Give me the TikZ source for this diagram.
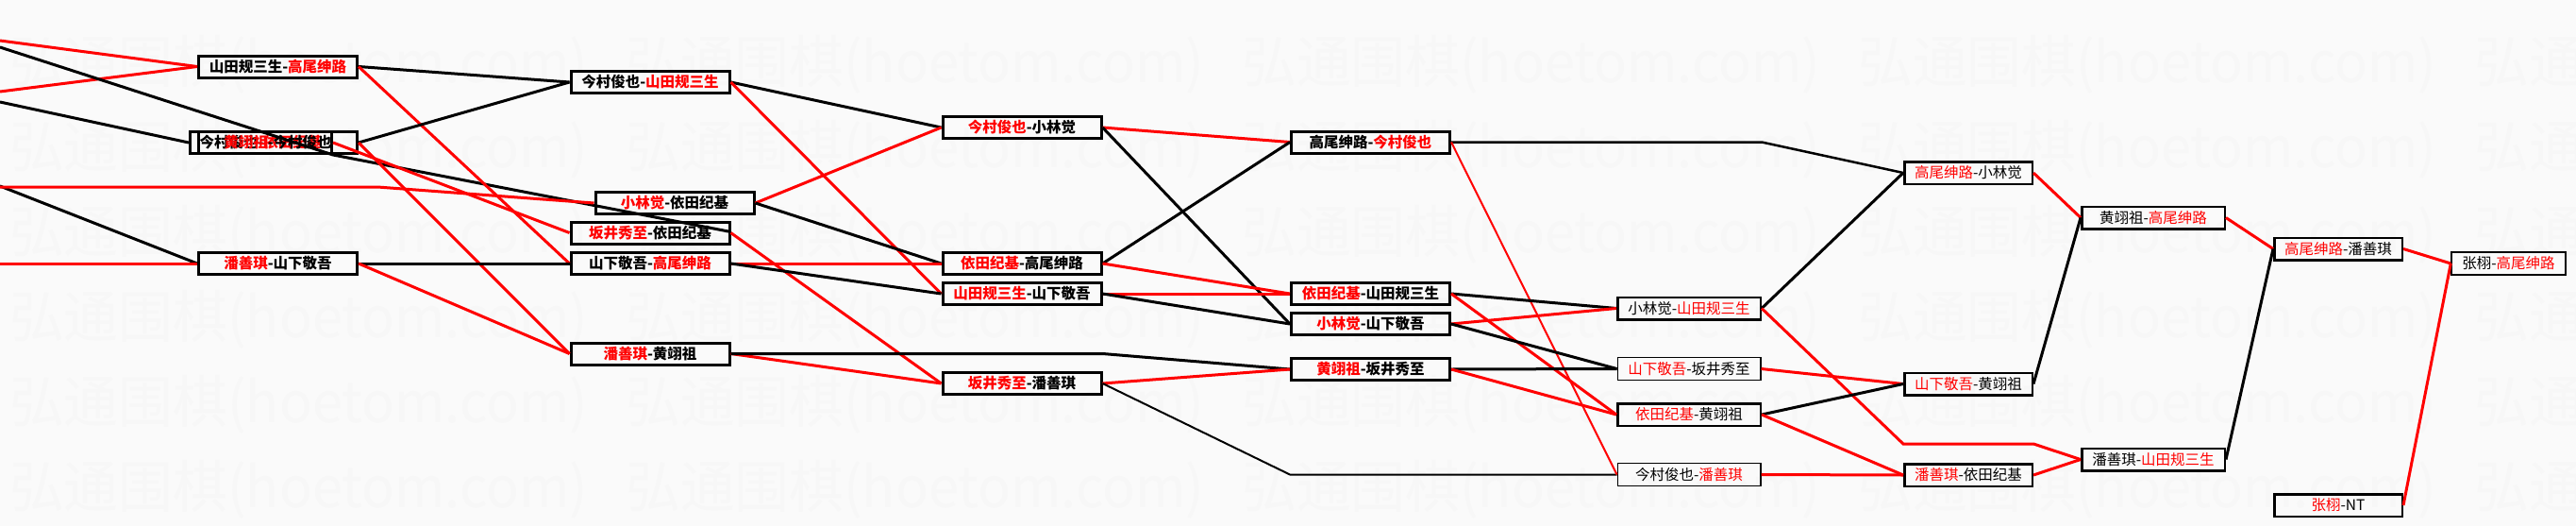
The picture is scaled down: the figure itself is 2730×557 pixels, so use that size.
\documentclass[tikz,border=0pt]{standalone}
\usepackage{fontspec}
\newfontfamily\cjk{Noto Sans CJK SC}
\usetikzlibrary{calc}

\tikzstyle{game} = [draw, rectangle, line width=3pt, inner sep=0pt,
                    minimum width=168pt, minimum height=23pt,
                    font=\cjk\bfseries\fontsize{15.5}{16}\selectfont]
\tikzstyle{late} = [game, line width=2.5pt, minimum height=23.5pt,
                    font=\cjk\fontsize{15.5}{16}\selectfont]
\tikzstyle{wmark} = [black!3, inner sep=0pt, anchor=north west,
                     font=\cjk]
\def\cWin{red}
\def\won#1{\textcolor{\cWin}{#1}}
\def\wm{\resizebox{613pt}{50pt}{弘通围棋(hoetom.com)}}

\begin{document}
\begin{tikzpicture}[x=1pt,y=-1pt,
    win/.style={\cWin,line width=3pt},
    lose/.style={black,line width=3pt}]

\fill[black!2] (0,0) rectangle (2730,557);
\useasboundingbox (0,0) rectangle (2730,557);

% watermark rows
\foreach \r in {0,...,5}
  \foreach \c in {0,...,4}
    \node[wmark] at (10+653*\c,37+90*\r) (wm-\r-\c) {\wm};

% round 1
\node[game] at (294.5,70.5) (r1a) {山田规三生-\won{高尾绅路}};
\node[game,minimum width=150pt] at (276.5,151) (r1c1)
     {今村俊也-\won{依田纪基}};
\node[game] at (294.5,151) (r1c2) {\won{黄翊祖}-今村俊也};
\node[game] at (294.5,279) (r1d) {\won{潘善琪}-山下敬吾};

% round 2
\node[game] at (689,87) (r2a) {今村俊也-\won{山田规三生}};
\node[game] at (715,215) (r2b) {\won{小林觉}-依田纪基};
\node[game] at (689,246.5) (r2c) {\won{坂井秀至}-依田纪基};
\node[game] at (689,279) (r2d) {山下敬吾-\won{高尾绅路}};
\node[game] at (689,374.5) (r2e) {\won{潘善琪}-黄翊祖};

% round 3
\node[game] at (1083,135) (r3a) {\won{今村俊也}-小林觉};
\node[game] at (1083,279) (r3b) {\won{依田纪基}-高尾绅路};
\node[game] at (1083,311) (r3c) {\won{山田规三生}-山下敬吾};
\node[game] at (1083,406) (r3d) {\won{坂井秀至}-潘善琪};

% round 4
\node[game] at (1452.5,150.5) (r4a) {高尾绅路-\won{今村俊也}};
\node[game] at (1452.5,311) (r4b) {\won{依田纪基}-山田规三生};
\node[game] at (1452.5,343) (r4c) {\won{小林觉}-山下敬吾};
\node[game] at (1452.5,391) (r4d) {\won{黄翊祖}-坂井秀至};

% round 5
\node[late,minimum width=151.5pt] at (1790,326.5) (r5a)
     {小林觉-\won{山田规三生}};
\node[late,minimum width=151.5pt,line width=1.5pt,minimum height=24pt]
     at (1790,390.5) (r5b) {\won{山下敬吾}-坂井秀至};
\node[late,minimum width=151.5pt] at (1790,439) (r5c)
     {\won{依田纪基}-黄翊祖};
\node[late,minimum width=151.5pt,line width=1.5pt,minimum height=24pt]
     at (1790,502.5) (r5d) {今村俊也-\won{潘善琪}};

% round 6
\node[late,minimum width=135.5pt] at (2086,183) (r6a)
     {\won{高尾绅路}-小林觉};
\node[late,minimum width=135.5pt] at (2086,406.5) (r6b)
     {\won{山下敬吾}-黄翊祖};
\node[late,minimum width=135.5pt] at (2086,503) (r6c)
     {\won{潘善琪}-依田纪基};

% rounds 7 to 9
\node[late,minimum width=151.5pt] at (2282,230.5) (r7a)
     {黄翊祖-\won{高尾绅路}};
\node[late,minimum width=151.5pt] at (2282,486.5) (r7b)
     {潘善琪-\won{山田规三生}};
\node[late,minimum width=135.5pt] at (2478,263.5) (r8a)
     {\won{高尾绅路}-潘善琪};
\node[late,minimum width=135.5pt] at (2478,535) (r8b) {\won{张栩}-NT};
\node[late,minimum width=120.5pt,line width=2pt] at (2658.5,279) (r9a)
     {张栩-\won{高尾绅路}};

% loose ends at the left border, and bends
\coordinate (e1) at (0,43);
\coordinate (e2) at (0,97);
\coordinate (e3) at (0,50);
\coordinate (e4) at (0,108);
\coordinate (e5) at (0,198);
\coordinate (e6) at (0,197);
\coordinate (e7) at (0,279);
\coordinate (b0) at (r1c1.south east);
\coordinate (b1) at (400,198);
\coordinate (b2) at (r3d.east |- r2e.east);
\coordinate (b3) at (r5a.east |- r4a.east);
\coordinate (b4) at (r4d.west |- r5d.west);
\coordinate (b5) at (2017,470);
\coordinate (b6) at (2155,470);

% into round 1
\draw[win] (e1) -- (r1a.west);
\draw[win] (e2) -- (r1a.west);
\draw[lose] (e4) -- (r1c1.west);
\draw[lose] (e6) -- (r1d.west);
\draw[win] (e7) -- (r1d.west);
\draw[lose] (e3) -- (b0) -- ([yshift=1pt]r2c.east);
\draw[win] (e5) -- (b1) -- (r2b.west);

% into round 2
\draw[lose] (r1a.east) -- (r2a.west);
\draw[win] (r1a.east) -- (r2d.west);
\draw[lose] (r1c2.east) -- (r2a.west);
\draw[win] (r1c2.east) -- (r2e.west);
\draw[win] (r1c1.east) -- (r2c.west);
\draw[lose] (r1d.east) -- (r2d.west);
\draw[win] (r1d.east) -- (r2e.west);

% into round 3
\draw[lose] (r2a.east) -- (r3a.west);
\draw[win] (r2a.east) -- (r3c.west);
\draw[win] (r2b.east) -- (r3a.west);
\draw[lose] (r2b.east) -- (r3b.west);
\draw[win] (r2c.east) -- (r3d.west);
\draw[win] (r2d.east) -- (r3b.west);
\draw[lose] (r2d.east) -- (r3c.west);
\draw[win] (r2e.east) -- (r3d.west);
\draw[lose] (r2e.east) -- (b2) -- (r4d.west);

% into round 4
\draw[win] (r3a.east) -- (r4a.west);
\draw[lose] (r3a.east) -- (r4c.west);
\draw[lose] (r3b.east) -- (r4a.west);
\draw[win] (r3b.east) -- (r4b.west);
\draw[win] (r3c.east) -- (r4b.west);
\draw[lose] (r3c.east) -- (r4c.west);
\draw[win] (r3d.east) -- (r4d.west);
\draw[lose,line width=2pt] (r3d.east) -- (b4) -- (r5d.west);

% into round 5
\draw[lose,line width=2.5pt] (r4a.east) -- (b3) -- (r6a.west);
\draw[win,line width=2pt] (r4a.east) -- (r5d.west);
\draw[lose] (r4b.east) -- (r5a.west);
\draw[win] (r4b.east) -- (r5c.west);
\draw[win] (r4c.east) -- (r5a.west);
\draw[lose] (r4c.east) -- (r5b.west);
\draw[lose] (r4d.east) -- (r5b.west);
\draw[win] (r4d.east) -- (r5c.west);

% later rounds
\begin{scope}[every path/.append style={line width=2pt}]
\draw[lose] (r5a.east) -- (r6a.west);
\draw[win] (r5a.east) -- (b5) -- (b6) -- (r7b.west);
\draw[win] (r5b.east) -- (r6b.west);
\draw[lose] (r5c.east) -- (r6b.west);
\draw[win] (r5c.east) -- (r6c.west);
\draw[win] (r5d.east) -- (r6c.west);
\draw[win] (r6a.east) -- (r7a.west);
\draw[lose] (r6b.east) -- (r7a.west);
\draw[win] (r6c.east) -- (r7b.west);
\draw[win] (r7a.east) -- (r8a.west);
\draw[lose] (r7b.east) -- (r8a.west);
\draw[win] (r8a.east) -- (r9a.west);
\draw[win] (r8b.east) -- (r9a.west);
\end{scope}

\end{tikzpicture}
\end{document}
